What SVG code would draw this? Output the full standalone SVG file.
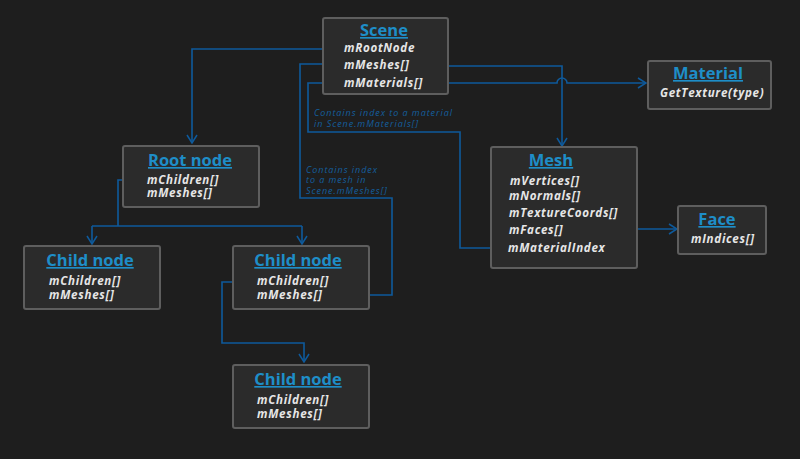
<svg xmlns="http://www.w3.org/2000/svg" width="800" height="459" viewBox="0 0 800 459">
<defs>
<marker id="arr" viewBox="0 0 10 12" refX="9" refY="6" markerWidth="10" markerHeight="12" markerUnits="userSpaceOnUse" orient="auto">
<path d="M1,1 L9,6 L1,11" fill="none" stroke="#0e5a9c" stroke-width="1.5"/>
</marker>
<style>
.box{fill:#2b2b2b;stroke:#5e5e5e;stroke-width:2}
.title{font-family:"Open Sans","Liberation Sans",sans-serif;font-weight:bold;font-size:16.5px;fill:#1e8ec8;text-anchor:middle;text-decoration:underline}
.item{font-family:"Open Sans","Liberation Sans",sans-serif;font-weight:bold;font-style:italic;font-size:11.6px;letter-spacing:0.7px;fill:#e6e6e6}
.note{font-family:"Open Sans","Liberation Sans",sans-serif;font-style:italic;letter-spacing:0.95px;fill:#145f9e}
.ln{fill:none;stroke:#0e5a9c;stroke-width:1.6}
</style>
</defs>
<rect x="0" y="0" width="800" height="459" fill="#1e1e1e"/>
<g id="connectors">
<path class="ln" d="M338,49 H192 V143" marker-end="url(#arr)"/>
<path class="ln" d="M333,295 H392 V198 H300 V64 H338" marker-end="url(#arr)"/>
<path class="ln" d="M503,248 H460 V132 H308 V83 H338" marker-end="url(#arr)"/>
<path class="ln" d="M420,66 H562 V146" marker-end="url(#arr)"/>
<path class="ln" d="M430,83 H557 A5,5 0 0 1 567,83 H646" marker-end="url(#arr)"/>
<path class="ln" d="M145,180 H118 V226"/>
<path class="ln" d="M92,226 H302"/>
<path class="ln" d="M92,226 V244" marker-end="url(#arr)"/>
<path class="ln" d="M302,226 V244" marker-end="url(#arr)"/>
<path class="ln" d="M252,282 H222 V343 H304 V362" marker-end="url(#arr)"/>
<path class="ln" d="M568,229 H677" marker-end="url(#arr)"/>
<text class="note" font-size="9" x="314" y="116">Contains index to a material</text>
<text class="note" font-size="9" x="314" y="126.5">in Scene.mMaterials[]</text>
<text class="note" font-size="9" x="306" y="172.5">Contains index</text>
<text class="note" font-size="9" x="306" y="183">to a mesh in</text>
<text class="note" font-size="9" x="306" y="193.5">Scene.mMeshes[]</text>
</g>
<g id="scene">
<rect class="box" x="323" y="18" width="125" height="76" rx="2"/>
<text class="title" x="384" y="36">Scene</text>
<text class="item" x="344" y="52">mRootNode</text>
<text class="item" x="344" y="69">mMeshes[]</text>
<text class="item" x="344" y="87">mMaterials[]</text>
</g>
<g id="material">
<rect class="box" x="648" y="61" width="123" height="48" rx="2"/>
<text class="title" x="708" y="79">Material</text>
<text class="item" x="660" y="97">GetTexture(type)</text>
</g>
<g id="rootnode">
<rect class="box" x="123" y="146" width="136" height="61" rx="2"/>
<text class="title" x="190" y="166">Root node</text>
<text class="item" x="147" y="184">mChildren[]</text>
<text class="item" x="147" y="197">mMeshes[]</text>
</g>
<g id="mesh">
<rect class="box" x="491" y="147" width="146" height="121" rx="2"/>
<text class="title" x="551" y="166">Mesh</text>
<text class="item" x="510" y="185">mVertices[]</text>
<text class="item" x="509" y="200">mNormals[]</text>
<text class="item" x="509" y="217">mTextureCoords[]</text>
<text class="item" x="509" y="234">mFaces[]</text>
<text class="item" x="508" y="252">mMaterialIndex</text>
</g>
<g id="face">
<rect class="box" x="678" y="206" width="88" height="48" rx="2"/>
<text class="title" x="717" y="225">Face</text>
<text class="item" x="691" y="243">mIndices[]</text>
</g>
<g id="childnode1">
<rect class="box" x="24" y="246" width="136" height="63" rx="2"/>
<text class="title" x="90" y="266">Child node</text>
<text class="item" x="49" y="285">mChildren[]</text>
<text class="item" x="49" y="299">mMeshes[]</text>
</g>
<g id="childnode2">
<rect class="box" x="233" y="246" width="136" height="63" rx="2"/>
<text class="title" x="298" y="266">Child node</text>
<text class="item" x="257" y="285">mChildren[]</text>
<text class="item" x="257" y="299">mMeshes[]</text>
</g>
<g id="childnode3">
<rect class="box" x="233" y="365" width="136" height="63" rx="2"/>
<text class="title" x="298" y="385">Child node</text>
<text class="item" x="257" y="404">mChildren[]</text>
<text class="item" x="257" y="418">mMeshes[]</text>
</g>
</svg>
